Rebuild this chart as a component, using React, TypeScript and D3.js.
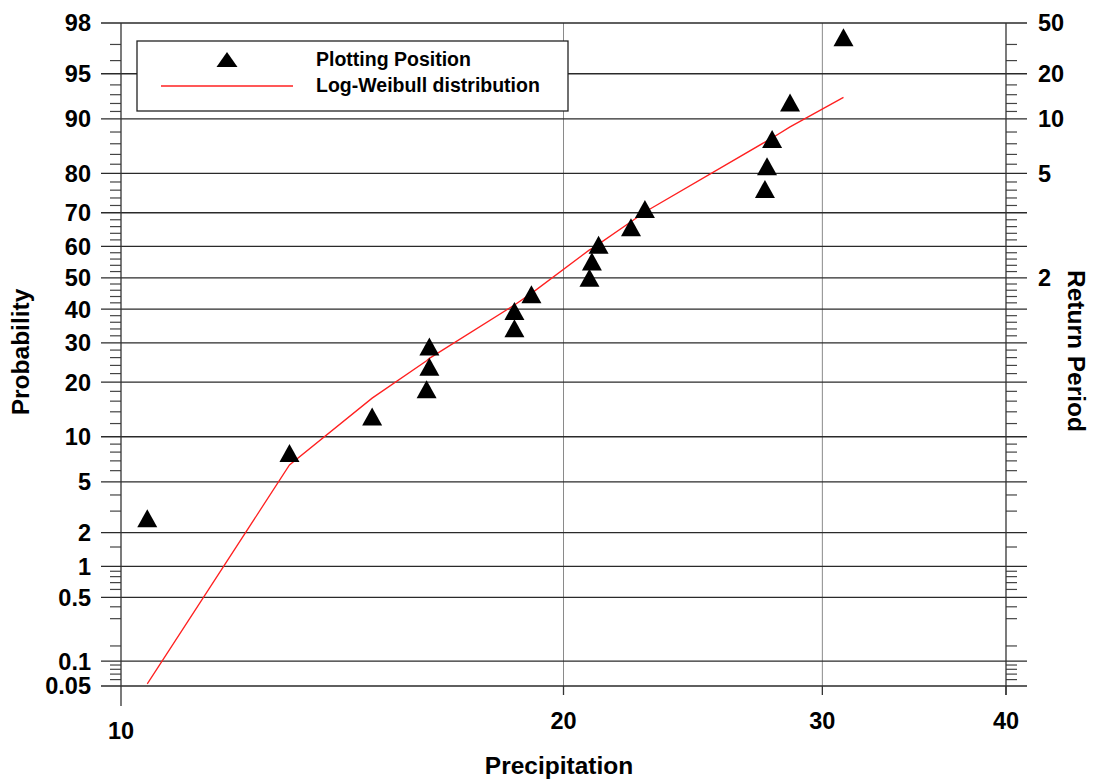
import React from 'react';
import * as d3 from 'd3';

// ---- data ----
const precipitation = [10.42, 13.02, 14.82, 16.14, 16.21, 16.21, 18.52, 18.52, 19.02, 20.83, 20.91, 21.13, 22.23, 22.72, 27.42, 27.51, 27.73, 28.52, 31.01];
const plottingPosition = [2.63, 7.89, 13.16, 18.42, 23.68, 28.95, 34.21, 39.47, 44.74, 50.0, 55.26, 60.53, 65.79, 71.05, 76.32, 81.58, 86.84, 92.11, 97.37];
const logWeibull = [0.053, 6.57, 16.6, 25.2, 25.8, 25.8, 41.3, 41.3, 45.0, 58.9, 59.3, 60.7, 67.4, 70.2, 86.3, 86.5, 87.0, 88.8, 92.7];

const probTicks = [98, 95, 90, 80, 70, 60, 50, 40, 30, 20, 10, 5, 2, 1, 0.5, 0.1, 0.05];
const probMinorTicks = [97, 96, 94, 93, 92, 91, 88, 86, 84, 82, 78, 76, 74, 72, 68, 66, 64, 62, 58, 56, 54, 52, 48, 46, 44, 42, 38, 36, 34, 32, 28, 26, 24, 22, 18, 16, 14, 12, 9, 8, 7, 6, 4, 3, 1.5, 0.9, 0.8, 0.7, 0.6, 0.4, 0.3, 0.15, 0.09, 0.08, 0.07, 0.06];
const returnPeriodTicks = [50, 20, 10, 5, 2];
const xTicks = [10, 20, 30, 40];
const xGridTicks = [20, 30];

// inverse standard normal CDF (Acklam) for the probability-paper axis
function probit(p: number): number {
  const a = [-3.969683028665376e1, 2.209460984245205e2, -2.759285104469687e2, 1.38357751867269e2, -3.066479806614716e1, 2.506628277459239];
  const b = [-5.447609879822406e1, 1.615858368580409e2, -1.556989798598866e2, 6.680131188771972e1, -1.328068155288572e1];
  const c = [-7.784894002430293e-3, -3.223964580411365e-1, -2.400758277161838, -2.549732539343734, 4.374664141464968, 2.938163982698783];
  const d = [7.784695709041462e-3, 3.224671290700398e-1, 2.445134137142996, 3.754408661907416];
  const pl = 0.02425;
  if (p < pl) {
    const q = Math.sqrt(-2 * Math.log(p));
    return (((((c[0] * q + c[1]) * q + c[2]) * q + c[3]) * q + c[4]) * q + c[5]) / ((((d[0] * q + d[1]) * q + d[2]) * q + d[3]) * q + 1);
  }
  if (p > 1 - pl) {
    const q = Math.sqrt(-2 * Math.log(1 - p));
    return -(((((c[0] * q + c[1]) * q + c[2]) * q + c[3]) * q + c[4]) * q + c[5]) / ((((d[0] * q + d[1]) * q + d[2]) * q + d[3]) * q + 1);
  }
  const q = p - 0.5;
  const r = q * q;
  return (((((a[0] * r + a[1]) * r + a[2]) * r + a[3]) * r + a[4]) * r + a[5]) * q / (((((b[0] * r + b[1]) * r + b[2]) * r + b[3]) * r + b[4]) * r + 1);
}

const W = 1094;
const H = 780;
const left = 121;
const right = 1006;
const top = 23;
const bottom = 686;

const x = d3.scaleLog().domain([10, 40]).range([left, right]);
const yz = d3.scaleLinear().domain([probit(0.0005), probit(0.98)]).range([bottom, top]);
const y = (pct: number) => yz(probit(pct / 100));

const FONT = '"Liberation Sans", Arial, sans-serif';
const TICK_FS = 23.5;
const TITLE_FS = 24.5;
const LEG_FS = 19.5;

function triangle(cx: number, cy: number, s: number, h: number) {
  return `M${cx},${cy - h / 2}L${cx + s / 2},${cy + h / 2}L${cx - s / 2},${cy + h / 2}Z`;
}

export default function App() {
  const lineGen = d3
    .line<number>()
    .x((_, i) => x(precipitation[i]))
    .y((_, i) => y(logWeibull[i]));
  const linePath = lineGen(logWeibull) || '';

  return (
    <svg width={W} height={H} style={{ position: 'absolute', left: 0, top: 0, background: '#fff' }} fontFamily={FONT}>
      <rect x={0} y={0} width={W} height={H} fill="#fff" />
      {/* vertical grid lines */}
      {xGridTicks.map((t) => (
        <line key={'vg' + t} x1={x(t)} x2={x(t)} y1={top} y2={bottom} stroke="#8a8a8a" strokeWidth={1} />
      ))}
      {/* horizontal grid lines (also major ticks on both sides) */}
      {probTicks.map((t) => (
        <line key={'hg' + t} x1={left - 20} x2={right + 21} y1={y(t)} y2={y(t)} stroke="#2a2a2a" strokeWidth={1.3} />
      ))}
      {/* minor ticks */}
      {probMinorTicks.map((t) => (
        <g key={'mt' + t}>
          <line x1={left - 11} x2={left} y1={y(t)} y2={y(t)} stroke="#444" strokeWidth={1.2} />
          <line x1={right} x2={right + 11} y1={y(t)} y2={y(t)} stroke="#444" strokeWidth={1.2} />
        </g>
      ))}
      {/* axes */}
      <line x1={left} x2={left} y1={top} y2={bottom + 20} stroke="#333" strokeWidth={1.3} />
      <line x1={right} x2={right} y1={top} y2={bottom + 9} stroke="#333" strokeWidth={1.3} />
      {xTicks.slice(1).map((t) => (
        <line key={'xt' + t} x1={x(t)} x2={x(t)} y1={bottom} y2={bottom + 9} stroke="#333" strokeWidth={1.3} />
      ))}
      {/* left tick labels */}
      {probTicks.map((t) => (
        <text key={'yl' + t} x={91} y={y(t)} dy="0.36em" textAnchor="end" fontSize={TICK_FS} fontWeight="bold" fill="#000">
          {t}
        </text>
      ))}
      {/* right tick labels: return period */}
      {returnPeriodTicks.map((T) => (
        <text key={'yr' + T} x={1038} y={y(100 * (1 - 1 / T))} dy="0.36em" textAnchor="start" fontSize={TICK_FS} fontWeight="bold" fill="#000">
          {T}
        </text>
      ))}
      {/* x tick labels */}
      {xTicks.map((t, i) => (
        <text key={'xl' + t} x={x(t)} y={i === 0 ? 731 : 721} dy="0.36em" textAnchor="middle" fontSize={TICK_FS} fontWeight="bold" fill="#000">
          {t}
        </text>
      ))}
      {/* axis titles */}
      <text x={559} y={774} textAnchor="middle" fontSize={TITLE_FS} fontWeight="bold" fill="#000">
        Precipitation
      </text>
      <text transform="translate(29,352) rotate(-90)" textAnchor="middle" fontSize={TITLE_FS} fontWeight="bold" fill="#000">
        Probability
      </text>
      <text transform="translate(1068,351) rotate(90)" textAnchor="middle" fontSize={TITLE_FS} fontWeight="bold" fill="#000">
        Return Period
      </text>
      {/* legend */}
      <rect x={137} y={41} width={431} height={70} fill="#fff" stroke="#222" strokeWidth={1.3} />
      <path d={triangle(227, 59.5, 21, 15)} fill="#000" />
      <text x={316} y={66} fontSize={LEG_FS} fontWeight="bold" fill="#000">
        Plotting Position
      </text>
      <line x1={161} x2={293} y1={86} y2={86} stroke="#ff2020" strokeWidth={1.3} />
      <text x={316} y={92} fontSize={LEG_FS} fontWeight="bold" fill="#000">
        Log-Weibull distribution
      </text>
      {/* fitted distribution */}
      <path d={linePath} fill="none" stroke="#ff2020" strokeWidth={1.3} />
      {/* plotting positions */}
      {precipitation.map((v, i) => (
        <path key={'pt' + i} d={triangle(x(v), y(plottingPosition[i]), 20, 18)} fill="#000" />
      ))}
    </svg>
  );
}
